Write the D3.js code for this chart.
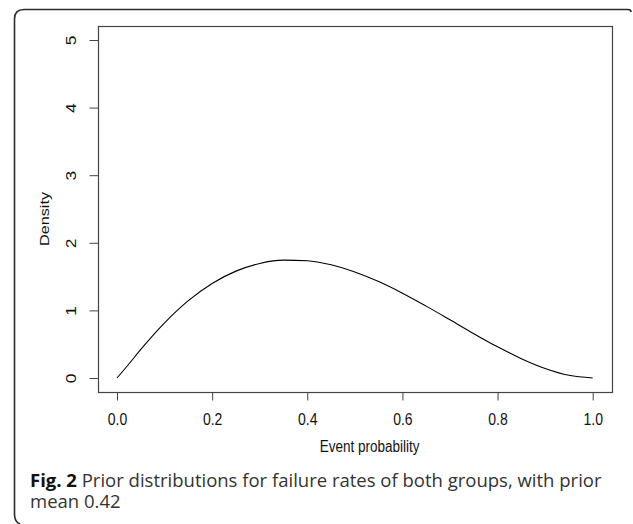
<!DOCTYPE html>
<html>
<head>
<meta charset="utf-8">
<script src="https://cdn.jsdelivr.net/npm/d3@7"></script>
<style>
  html, body { margin: 0; padding: 0; background: #fff; }
  svg { display: block; }
</style>
</head>
<body>
<svg id="chart" width="633" height="524"></svg>
<script>
// ---- data ----
const probability = [0, 0.025, 0.05, 0.10, 0.15, 0.20, 0.25, 0.30, 0.35, 0.40, 0.45, 0.50,
                     0.55, 0.60, 0.65, 0.70, 0.75, 0.80, 0.85, 0.90, 0.95, 1.0];
const density     = [0, 0.207, 0.422, 0.816, 1.144, 1.399, 1.581, 1.695, 1.744, 1.735, 1.674, 1.569,
                     1.426, 1.255, 1.063, 0.861, 0.656, 0.461, 0.286, 0.141, 0.040, 0];
const xTicks = [0, 0.2, 0.4, 0.6, 0.8, 1.0];
const yTicks = [0, 1, 2, 3, 4, 5];
const xLabel = "Event probability";
const yLabel = "Density";
const captionBold = "Fig. 2";
const captionLine1 = " Prior distributions for failure rates of both groups, with prior";
const captionLine2 = "mean 0.42";

const svg = d3.select("#chart");
const stretch = 1.2; // the reference text is slightly taller than wide

// outer figure frame (rounded corners, open to the right/bottom)
svg.append("path")
  .attr("d", "M631,12 Q631,9.5 628,9.5 L24,9.5 Q14.5,9.5 14.5,19 L14.5,514 Q14.5,522 20,524")
  .attr("fill", "none").attr("stroke", "#2b2b2b").attr("stroke-width", 1.6);

const box = {left: 98, right: 612, top: 26, bottom: 392};
const x = d3.scaleLinear().domain([0, 1]).range([117, 592.7]);
const y = d3.scaleLinear().domain([0, 5]).range([378, 40]);

const font = "'Liberation Sans', Arial, sans-serif";

// plot box
svg.append("rect")
  .attr("x", box.left + 0.5).attr("y", box.top + 0.5)
  .attr("width", box.right - box.left).attr("height", box.bottom - box.top)
  .attr("fill", "none").attr("stroke", "#444").attr("stroke-width", 1.2);

// x axis
const xAxis = d3.axisBottom(x).tickValues(xTicks).tickFormat(d3.format(".1f"))
  .tickSize(8).tickPadding(10);
const gx = svg.append("g").attr("transform", `translate(0,${box.bottom + 0.5})`).call(xAxis);
gx.select(".domain").remove();
gx.selectAll(".tick line").attr("stroke", "#444");
gx.selectAll(".tick text")
  .attr("font-family", font).attr("font-size", 14).attr("fill", "#111")
  .attr("y", 0).attr("dy", 0)
  .attr("transform", `translate(0,32.5) scale(1,${stretch})`);

// y axis
const yAxis = d3.axisLeft(y).tickValues(yTicks).tickFormat(d3.format("d"))
  .tickSize(9).tickPadding(0);
const gy = svg.append("g").attr("transform", `translate(${box.left + 0.5},0)`).call(yAxis);
gy.select(".domain").remove();
gy.selectAll(".tick line").attr("stroke", "#444");
gy.selectAll(".tick text")
  .attr("font-family", font).attr("font-size", 14.5).attr("fill", "#111")
  .attr("x", 0).attr("dy", 0)
  .attr("text-anchor", "middle")
  .attr("transform", `translate(-22.8,0) scale(1,${stretch}) rotate(-90)`);

// axis labels
svg.append("text")
  .attr("transform", `translate(369.7,451.7) scale(1,${stretch})`)
  .attr("text-anchor", "middle")
  .attr("font-family", font).attr("font-size", 13.5).attr("fill", "#111")
  .text(xLabel);
svg.append("text")
  .attr("transform", `translate(49,219) scale(1,${stretch}) rotate(-90)`)
  .attr("text-anchor", "middle")
  .attr("font-family", font).attr("font-size", 13.5).attr("fill", "#111")
  .text(yLabel);

// density curve
const pts = probability.map((p, i) => [p, density[i]]);
svg.append("path")
  .datum(pts)
  .attr("fill", "none").attr("stroke", "#000").attr("stroke-width", 1.1)
  .attr("d", d3.line().x(d => x(d[0])).y(d => y(d[1])).curve(d3.curveMonotoneX));

// caption (one text element, two lines)
const cap = svg.append("text")
  .attr("x", 30).attr("y", 487)
  .attr("font-family", "'Open Sans', sans-serif").attr("font-size", 18.5).attr("fill", "#333");
cap.append("tspan").attr("font-weight", "bold").attr("fill", "#111").text(captionBold);
cap.append("tspan").text(captionLine1);
cap.append("tspan").attr("x", 30).attr("dy", 21).text(captionLine2);
</script>
</body>
</html>
